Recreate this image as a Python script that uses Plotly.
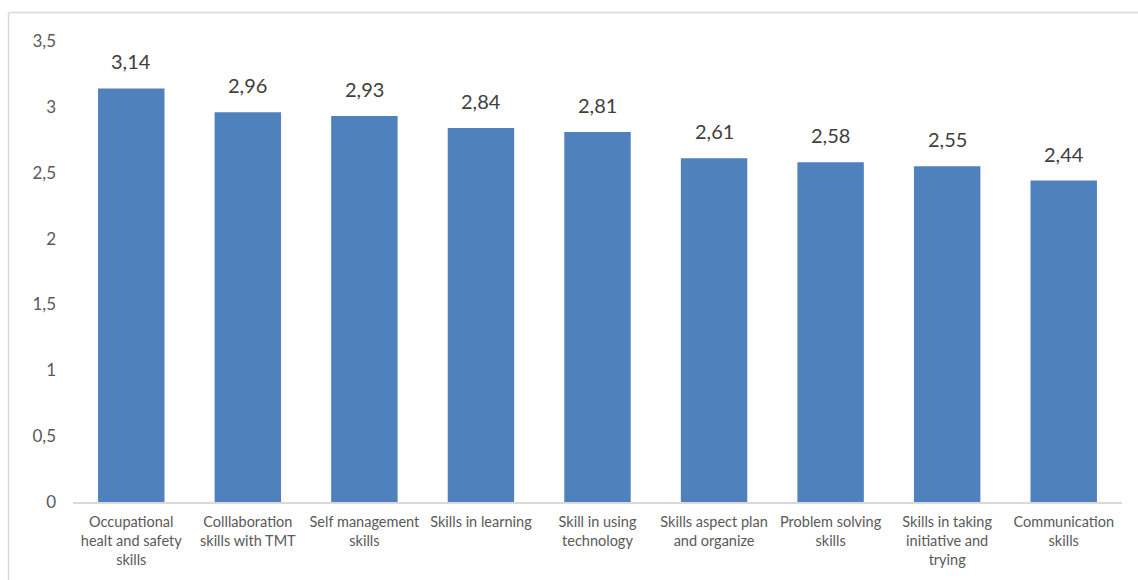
import plotly.graph_objects as go

categories = [
    "Occupational<br>healt and safety<br>skills",
    "Colllaboration<br>skills with TMT",
    "Self management<br>skills",
    "Skills in learning",
    "Skill in using<br>technology",
    "Skills aspect plan<br>and organize",
    "Problem solving<br>skills",
    "Skills in taking<br>initiative and<br>trying",
    "Communication<br>skills",
]
values = [3.14, 2.96, 2.93, 2.84, 2.81, 2.61, 2.58, 2.55, 2.44]
y_ticks = [0, 0.5, 1, 1.5, 2, 2.5, 3, 3.5]

W, H = 1138, 580
L, R, T, B = 73, 16, 41, 78
FONT = "Lato, 'Open Sans', sans-serif"
TEXT = "#595959"
BORDER = "#d9d9d9"

fig = go.Figure(
    go.Bar(
        x=categories,
        y=values,
        marker=dict(color="#4f81bd", line=dict(width=0)),
        hoverinfo="skip",
    )
)

# value labels above each bar
for c, v in zip(categories, values):
    fig.add_annotation(
        x=c, y=v, text=f"{v:.2f}".replace(".", ","),
        showarrow=False, yanchor="bottom", yshift=13,
        font=dict(family=FONT, size=20, color="#404040"),
    )

# chart frame
pw, ph = W - L - R, H - T - B
def px_x(p):
    return (p - L) / pw
def px_y(p):
    return (H - B - p) / ph
fig.add_shape(type="line", xref="paper", yref="paper",
              x0=px_x(8.5), x1=px_x(W + 5), y0=px_y(12.5), y1=px_y(12.5),
              line=dict(color=BORDER, width=1.5))
fig.add_shape(type="line", xref="paper", yref="paper",
              x0=px_x(8.5), x1=px_x(8.5), y0=px_y(12.5), y1=px_y(H + 5),
              line=dict(color=BORDER, width=1.5))

fig.update_layout(
    width=W, height=H,
    margin=dict(l=L, r=R, t=T, b=B),
    paper_bgcolor="white", plot_bgcolor="white",
    separators=",.",
    bargap=0.43,
    showlegend=False,
    font=dict(family=FONT, color=TEXT),
    xaxis=dict(
        showline=True, linecolor=BORDER, linewidth=1.5,
        showgrid=False, ticks="", tickfont=dict(size=14.5, color=TEXT),
        tickangle=0, fixedrange=True, ticklabelstandoff=6,
    ),
    yaxis=dict(
        range=[0, 3.5], tickvals=y_ticks, showgrid=False, zeroline=False,
        showline=False, ticks="", ticklabelstandoff=16,
        tickfont=dict(size=17, color=TEXT), fixedrange=True,
    ),
)

fig.write_html("out.html")
